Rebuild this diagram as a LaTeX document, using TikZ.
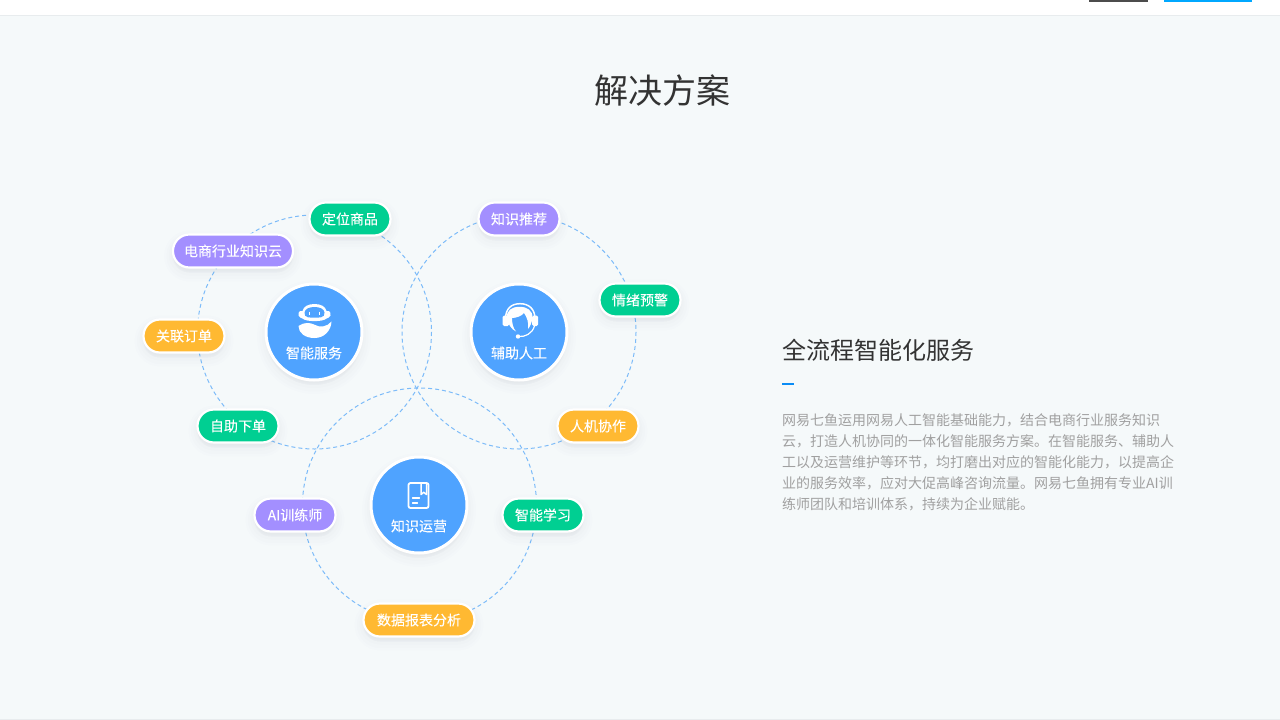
\documentclass[tikz,border=0pt]{standalone}
\usepackage{fontspec}
\setmainfont{Noto Sans CJK SC}
\newfontfamily\labelfont[FakeBold=0.06]{Noto Sans CJK SC}
\newcommand{\lowtxt}[1]{\raisebox{-.6pt}{#1}}
\definecolor{bgcol}{HTML}{F5F9FA}
\definecolor{linecol}{HTML}{E8ECEE}
\definecolor{dashcol}{HTML}{7CBBF9}
\definecolor{hubblue}{HTML}{4FA3FF}
\definecolor{pgreen}{HTML}{00CF92}
\definecolor{ppurple}{HTML}{A38FFF}
\definecolor{porange}{HTML}{FFB932}
\definecolor{shadowcol}{HTML}{5A6E8C}
\definecolor{titlecol}{HTML}{333333}
\definecolor{bodycol}{HTML}{A0A0A0}
\definecolor{topblue}{HTML}{00A8FF}
\definecolor{barblue}{HTML}{0A8CF5}
\tikzset{
  softshadow/.style={
    preaction={draw=shadowcol,fill=shadowcol,line width=18pt,opacity=.008,transform canvas={yshift=-5pt}},
    preaction={draw=shadowcol,fill=shadowcol,line width=13pt,opacity=.01,transform canvas={yshift=-5pt}},
    preaction={draw=shadowcol,fill=shadowcol,line width=8pt,opacity=.012,transform canvas={yshift=-4pt}},
    preaction={draw=shadowcol,fill=shadowcol,line width=4pt,opacity=.012,transform canvas={yshift=-3pt}}},
  pill/.style={softshadow,draw=white,line width=2.2pt,rounded corners=16.4pt,minimum height=33pt,inner sep=0pt,text=white,font=\labelfont\fontsize{14pt}{14pt}\selectfont},
  hub/.style={softshadow,circle,draw=white,line width=3pt,fill=hubblue,minimum size=96pt,inner sep=0pt},
  hublabel/.style={text=white,inner sep=0pt,font=\labelfont\fontsize{14pt}{14pt}\selectfont},
  orbit/.style={draw=dashcol,line width=1pt,dash pattern=on 4pt off 3pt},
  icon/.style={fill=white,draw=none},
  iconline/.style={draw=white,line width=2pt,line cap=round,line join=round}
}
\begin{document}
\begin{tikzpicture}[x=1pt,y=-1pt]
\useasboundingbox (0,0) rectangle (1280,720);
\fill[bgcol] (0,0) rectangle (1280,720);
\fill[white] (0,0) rectangle (1280,15);
\fill[linecol] (0,15) rectangle (1280,16);
\fill[linecol] (0,719) rectangle (1280,720);
\fill[black!70] (1089,0) rectangle (1148,1.5);
\fill[topblue] (1164,0) rectangle (1252,1.5);

\node[text=titlecol,inner sep=0pt,font=\fontsize{34pt}{34pt}\selectfont] (title) at (662,91) {解决方案};

% orbits
\coordinate (c1) at (314.5,332);
\coordinate (c2) at (519,332);
\coordinate (c3) at (419.5,505);
\draw[orbit] (c1) circle[radius=117];
\draw[orbit] (c2) circle[radius=117];
\draw[orbit] (c3) circle[radius=117];

% hubs
\node[hub] (hubA) at (314,332) {};
\node[hub] (hubB) at (519,332) {};
\node[hub] (hubC) at (419,505) {};
\node[hublabel] (labA) at (314,353) {智能服务};
\node[hublabel] (labB) at (519,353) {辅助人工};
\node[hublabel] (labC) at (419,526) {知识运营};

% pills
\node[pill,fill=pgreen,minimum width=81pt] (p1) at (350,219) {\lowtxt{定位商品}};
\node[pill,fill=ppurple,minimum width=120pt] (p2) at (233,251) {\lowtxt{电商行业知识云}};
\node[pill,fill=porange,minimum width=81pt] (p3) at (184,336) {\lowtxt{关联订单}};
\node[pill,fill=pgreen,minimum width=81pt] (p4) at (238,426) {\lowtxt{自助下单}};
\node[pill,fill=ppurple,minimum width=81pt] (p5) at (519,219) {\lowtxt{知识推荐}};
\node[pill,fill=pgreen,minimum width=81pt] (p6) at (640,300) {\lowtxt{情绪预警}};
\node[pill,fill=porange,minimum width=81pt] (p7) at (598,426) {\lowtxt{人机协作}};
\node[pill,fill=ppurple,minimum width=81pt] (p8) at (295,515) {\lowtxt{AI训练师}};
\node[pill,fill=pgreen,minimum width=81pt] (p9) at (543,515) {\lowtxt{智能学习}};
\node[pill,fill=porange,minimum width=111pt] (p10) at (419,620) {\lowtxt{数据报表分析}};

% robot icon: head with ears, visor, eyes
\fill[icon] (302.5,311) .. controls (303.5,306.5) and (308,304) .. (314.5,304) .. controls (321,304) and (325.5,306.5) .. (326.5,311)
  .. controls (330,310.5) and (331.5,313) .. (330.5,315.5) .. controls (329.5,317.5) and (328,318) .. (326.5,318.5)
  .. controls (323,322) and (306,322) .. (302.5,318.5) .. controls (301,318) and (299.5,317.5) .. (298.5,315.5) .. controls (297.5,313) and (299,310.5) .. (302.5,311) -- cycle;
\fill[hubblue] (304.5,312.5) .. controls (305,309) and (309,307) .. (314.5,307) .. controls (320,307) and (324,309) .. (324.5,312.5)
  .. controls (324.8,315) and (323.5,317) .. (321,317.3) .. controls (317,317.8) and (312,317.8) .. (308,317.3) .. controls (305.5,317) and (304.2,315) .. (304.5,312.5) -- cycle;
\draw[white,line width=1.2pt] (309.5,311.5) -- (309.5,314.8);
\draw[white,line width=1.2pt] (319.5,311.5) -- (319.5,314.8);
\fill[icon] (298.5,326) .. controls (304,322) and (310,322.5) .. (314,324.5) .. controls (320,328) and (327,327) .. (331.5,321.5)
  .. controls (331,331) and (324,338) .. (314.5,338) .. controls (305,338) and (298.5,333) .. (298.5,326) -- cycle;

% headset icon
\draw[white,line width=1.5pt] (505.5,319) .. controls (505.5,309) and (511,303.7) .. (520,303.7) .. controls (529,303.7) and (535,309) .. (535,319);
\fill[icon,rounded corners=1.5pt] (502.5,315.5) rectangle (509,326);
\fill[icon,rounded corners=1.5pt] (532,315.5) rectangle (538,326);
\fill[icon] (507,318) .. controls (506,310.5) and (512,306.8) .. (519.5,306.8) .. controls (527,306.8) and (533,310.5) .. (532.5,318)
  .. controls (532,322) and (530,327) .. (528,329) .. controls (529,323) and (527,317) .. (524,313)
  .. controls (522,316) and (516,318) .. (512,318) .. controls (512,323) and (513,328) .. (516,331.5)
  .. controls (511,329) and (508,324) .. (507,318) -- cycle;
\draw[white,line width=1.2pt] (518.5,336.5) .. controls (525,337) and (532,334) .. (534.5,326);
\fill[icon] (518,336.5) circle[radius=2.2];

% book icon
\draw[iconline,line width=1.8pt,rounded corners=2pt] (408.5,483) rectangle (428.5,508);
\draw[iconline,line width=1.5pt] (421,483.5) -- (421,494.5) -- (423.7,492.3) -- (426.5,494.5) -- (426.5,483.5);
\draw[iconline,line width=1.3pt] (412.5,498) -- (419.5,498);
\draw[iconline,line width=1.3pt] (412.5,503) -- (417.5,503);

% right text
\node[anchor=west,text=titlecol,inner sep=0pt,font=\fontsize{24pt}{24pt}\selectfont] (sub) at (782,350) {全流程智能化服务};
\fill[barblue] (782,383) rectangle (794,385);
\node[anchor=north west,align=left,text=bodycol,inner sep=0pt,font=\fontsize{14pt}{21pt}\selectfont] (body) at (782,413)
{网易七鱼运用网易人工智能基础能力，结合电商行业服务知识\\
云，打造人机协同的一体化智能服务方案。在智能服务、辅助人\\
工以及运营维护等环节，均打磨出对应的智能化能力，以提高企\\
业的服务效率，应对大促高峰咨询流量。网易七鱼拥有专业AI训\\
练师团队和培训体系，持续为企业赋能。};
\end{tikzpicture}
\end{document}
